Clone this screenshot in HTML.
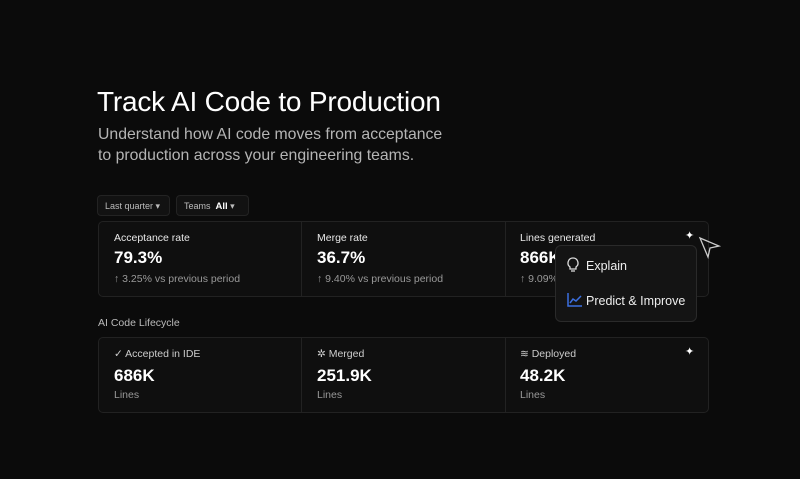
<!DOCTYPE html>
<html><head><meta charset="utf-8"><style>
*{margin:0;padding:0;box-sizing:border-box}
body{width:800px;height:479px;background:#0b0b0b;font-family:"Liberation Sans",sans-serif;color:#fff;position:relative;overflow:hidden}
.a{position:absolute;white-space:nowrap}
.dd{position:absolute;top:195px;height:21px;border:1px solid #232323;border-radius:4px;background:#121212;font-size:9px;color:#bbb;padding:5px 7px;white-space:nowrap}
.card{position:absolute;left:98px;width:611px;height:76px;border:1px solid #222;border-radius:5px;background:#0f0f0f}
.div{position:absolute;top:0;bottom:0;width:1px;background:#222}
.lab{font-size:10.5px;color:#e8e8e8}
.big{font-size:17px;font-weight:bold;color:#fff}
.sub{font-size:10.5px;color:#999}
</style></head><body>
<div class="a" style="left:97px;top:86px;font-size:28px;letter-spacing:-0.2px">Track AI Code to Production</div>
<div class="a" style="left:98px;top:124px;font-size:15.8px;color:#b5b5b5;line-height:21px">Understand how AI code moves from acceptance<br>to production across your engineering teams.</div>
<div class="dd" style="left:97px;width:73px">Last quarter ▾</div>
<div class="dd" style="left:176px;width:73px">Teams&nbsp;&nbsp;<b style="color:#fff;font-size:9.5px">All</b> ▾</div>

<div class="card" style="top:221px">
<div class="div" style="left:202px"></div><div class="div" style="left:406px"></div>
<div class="a lab" style="left:15px;top:10px">Acceptance rate</div>
<div class="a big" style="left:15px;top:26px">79.3%</div>
<div class="a sub" style="left:15px;top:51px">↑ 3.25% vs previous period</div>
<div class="a lab" style="left:218px;top:10px">Merge rate</div>
<div class="a big" style="left:218px;top:26px">36.7%</div>
<div class="a sub" style="left:218px;top:51px">↑ 9.40% vs previous period</div>
<div class="a lab" style="left:421px;top:10px">Lines generated</div>
<div class="a big" style="left:421px;top:26px">866K</div>
<div class="a sub" style="left:421px;top:51px">↑ 9.09%</div>
<div class="a" style="left:586px;top:7px;font-size:11px">✦</div>
</div>

<div class="a" style="left:98px;top:317px;font-size:10.5px;color:#bbb">AI Code Lifecycle</div>
<div class="card" style="top:337px">
<div class="div" style="left:202px"></div><div class="div" style="left:406px"></div>
<div class="a lab" style="left:15px;top:10px;color:#ccc">✓ Accepted in IDE</div>
<div class="a big" style="left:15px;top:28px">686K</div>
<div class="a sub" style="left:15px;top:51px">Lines</div>
<div class="a lab" style="left:218px;top:10px;color:#ccc">✲ Merged</div>
<div class="a big" style="left:218px;top:28px">251.9K</div>
<div class="a sub" style="left:218px;top:51px">Lines</div>
<div class="a lab" style="left:421px;top:10px;color:#ccc">≋ Deployed</div>
<div class="a big" style="left:421px;top:28px">48.2K</div>
<div class="a sub" style="left:421px;top:51px">Lines</div>
<div class="a" style="left:586px;top:7px;font-size:11px">✦</div>
</div>

<svg class="a" style="left:698px;top:236px" width="24" height="24" viewBox="0 0 24 24"><path d="M2 2 L21 10 L12 12 L10 21 Z" fill="none" stroke="#ccc" stroke-width="1.3"/></svg>

<div class="a" style="left:555px;top:245px;width:142px;height:77px;background:#141414;border:1px solid #2a2a2a;border-radius:6px">
<svg class="a" style="left:10px;top:11px" width="14" height="16" viewBox="0 0 14 16"><path d="M7 1a5 5 0 0 0-3 9v2h6v-2a5 5 0 0 0-3-9zM5 14h4" fill="none" stroke="#ddd" stroke-width="1.3"/></svg>
<div class="a" style="left:30px;top:13px;font-size:12.5px;color:#eee">Explain</div>
<svg class="a" style="left:11px;top:47px" width="15" height="14" viewBox="0 0 15 14"><path d="M1 0V13H15M3 10L6 6L9 8L14 3" fill="none" stroke="#3b6fe0" stroke-width="1.5"/></svg>
<div class="a" style="left:30px;top:48px;font-size:12.5px;color:#eee">Predict &amp; Improve</div>
</div>
</body></html>
